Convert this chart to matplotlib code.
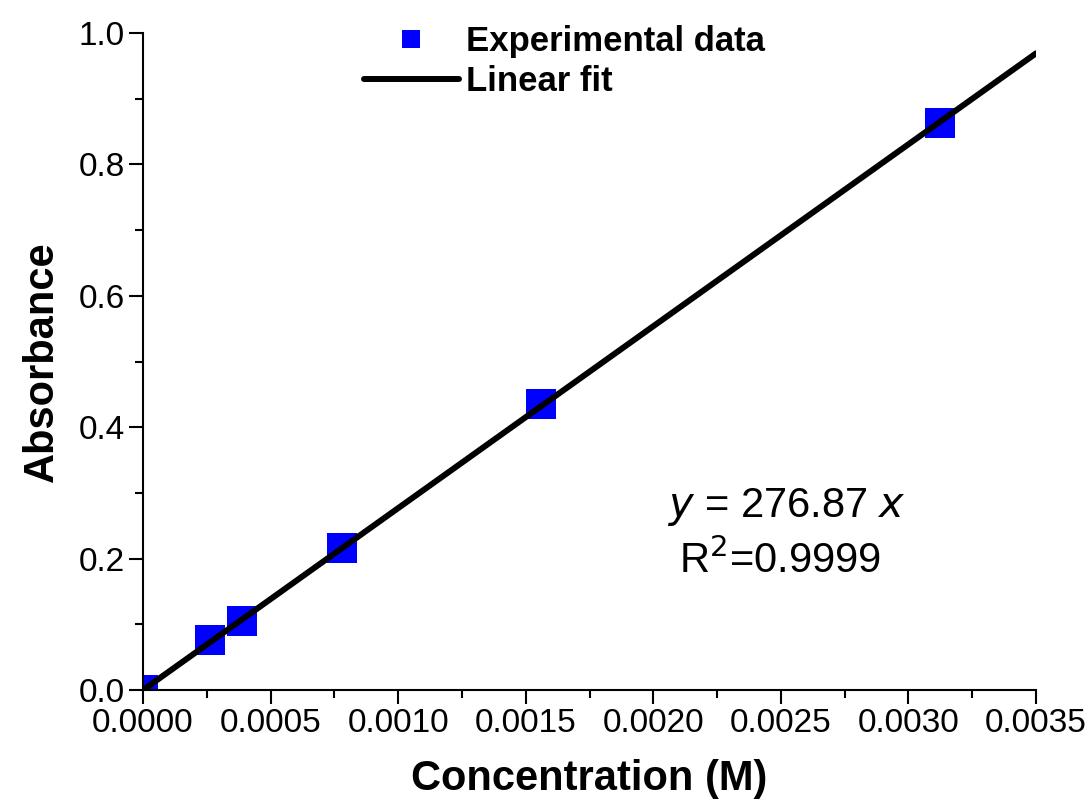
import matplotlib.pyplot as plt
import numpy as np
from matplotlib.ticker import MultipleLocator, FormatStrFormatter

plt.rcParams['font.family'] = ['Liberation Sans', 'DejaVu Sans']

# data
conc = [0.0, 0.000263, 0.000388, 0.00078, 0.00156, 0.003124]
absorb = [0.0, 0.076, 0.105, 0.216, 0.435, 0.863]
slope = 276.87
fit_x = np.array([0.0, 0.0035])

fig = plt.figure(figsize=(10.9, 8.1), dpi=100)
ax = fig.add_axes([0.1312, 0.1481, 0.8193, 0.8112])

ax.plot(conc, absorb, 's', color='#0000ff', markersize=21, markeredgewidth=0,
        label='Experimental data', zorder=2)
ax.plot(fit_x, slope * fit_x, '-', color='black', linewidth=4.3,
        label='Linear fit', zorder=3, solid_capstyle='round')

ax.set_xlim(0, 0.0035)
ax.set_ylim(0, 1.0)
ax.xaxis.set_major_locator(MultipleLocator(0.0005))
ax.xaxis.set_minor_locator(MultipleLocator(0.00025))
ax.yaxis.set_major_locator(MultipleLocator(0.2))
ax.yaxis.set_minor_locator(MultipleLocator(0.1))
ax.xaxis.set_major_formatter(FormatStrFormatter('%.4f'))
ax.yaxis.set_major_formatter(FormatStrFormatter('%.1f'))

for s in ['top', 'right']:
    ax.spines[s].set_visible(False)
for s in ['left', 'bottom']:
    ax.spines[s].set_linewidth(1.5)
ax.tick_params(which='major', direction='out', length=10, width=1.5, labelsize=24, pad=3)
ax.tick_params(which='minor', direction='out', length=6, width=1.5)

ax.set_xlabel('Concentration (M)', fontsize=30, fontweight='bold', labelpad=14)
ax.set_ylabel('Absorbance', fontsize=30, fontweight='bold', labelpad=12)

leg = ax.legend(loc='upper left', bbox_to_anchor=(0.212, 1.06), frameon=False,
                prop={'weight': 'bold', 'size': 25},
                handlelength=2.75, handletextpad=0.2, labelspacing=0.2,
                markerscale=0.65)

ax.text(0.72, 0.278, '$\\it{y}$ = 276.87 $\\it{x}$', transform=ax.transAxes,
        fontsize=30, ha='center', va='center')
ax.text(0.713, 0.197, 'R$^2$=0.9999', transform=ax.transAxes,
        fontsize=30, ha='center', va='center')

fig.savefig('out.png', dpi=100)
